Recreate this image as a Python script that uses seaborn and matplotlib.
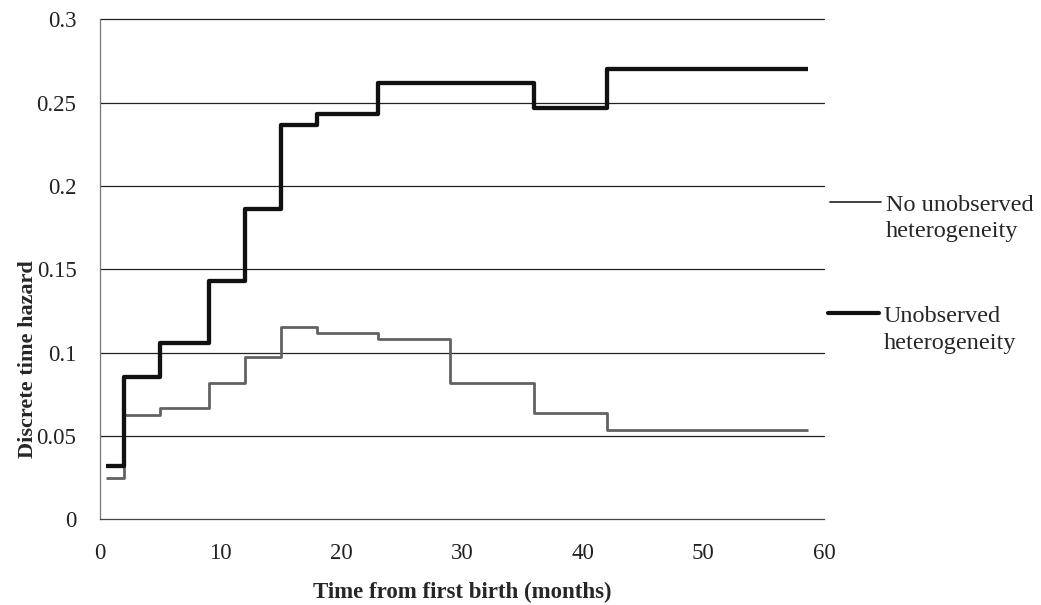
import numpy as np
import pandas as pd
import matplotlib
matplotlib.use("Agg")
import matplotlib.pyplot as plt
from matplotlib.lines import Line2D
import seaborn as sns


# ======================================================
# DATA
# ======================================================
# step edges in months; each value holds from its edge to the next one
month_edges = [0.5, 2, 5, 9, 12, 15, 18, 23, 29, 36, 42, 58.7]

hazard_no_unobs = [0.0248, 0.0626, 0.0666, 0.0816, 0.0972, 0.1152,
                   0.1116, 0.108, 0.0816, 0.0636, 0.0536]
hazard_unobs = [0.0318, 0.0853, 0.1058, 0.1432, 0.1862, 0.2367,
                0.2432, 0.2617, 0.2617, 0.2467, 0.2702]

series_names = ["No unobserved", "Unobserved"]

y_ticks = [0, 0.05, 0.1, 0.15, 0.2, 0.25, 0.3]
y_tick_labels = ["0", "0.05", "0.1", "0.15", "0.2", "0.25", "0.3"]
x_ticks = [0, 10, 20, 30, 40, 50, 60]


# ======================================================
# LONG TABLE FOR SEABORN (repeat last value to close the step)
# ======================================================
frames = []
for name, vals in zip(series_names, [hazard_no_unobs, hazard_unobs]):
    frames.append(pd.DataFrame({
        "month": month_edges,
        "hazard": list(vals) + [vals[-1]],
        "model": name,
    }))
df = pd.concat(frames, ignore_index=True)


# ======================================================
# STYLE
# ======================================================
sns.set_style("white")
plt.rcParams["font.family"] = ["Liberation Serif", "DejaVu Serif"]

styles = {
    "No unobserved": dict(color="#626262", lw=2.0),
    "Unobserved": dict(color="#111111", lw=3.1),
}


# ======================================================
# PLOT
# ======================================================
fig = plt.figure(figsize=(10.41, 6.05), dpi=100)
ax = fig.add_axes([0.0961, 0.1417, 0.6955, 0.8264])

ax.set_axisbelow(True)
for y in y_ticks[1:]:
    ax.axhline(y, color="#222222", lw=0.9, zorder=0, clip_on=False)

for name in series_names:
    sns.lineplot(
        data=df[df["model"] == name],
        x="month", y="hazard",
        estimator=None, drawstyle="steps-post",
        color=styles[name]["color"], linewidth=styles[name]["lw"],
        solid_capstyle="butt", ax=ax, legend=False,
    )

ax.set_xlim(0, 60)
ax.set_ylim(0, 0.3)
ax.set_xticks(x_ticks)
ax.set_yticks(y_ticks)
ax.set_yticklabels(y_tick_labels)

for side in ["top", "right"]:
    ax.spines[side].set_visible(False)
ax.spines["left"].set_color("#777777")
ax.spines["left"].set_linewidth(0.9)
ax.spines["bottom"].set_color("#444444")
ax.spines["bottom"].set_linewidth(0.9)

ax.tick_params(axis="y", direction="out", length=4, width=0.9,
               color="#555555", pad=13, labelsize=16.5, labelcolor="#222222")
ax.tick_params(axis="x", direction="out", length=3, width=0.8,
               color="#777777", pad=14, labelsize=16.5, labelcolor="#222222")

ax.set_xlabel("Time from first birth (months)", fontsize=16.5,
              fontweight="bold", labelpad=13)
ax.set_ylabel("Discrete time hazard", fontsize=16, fontweight="bold")
ax.yaxis.set_label_coords(-0.085, 0.32)


# ======================================================
# LEGEND (two blocks, key aligned with first text line)
# ======================================================
blank = Line2D([], [], linestyle="none")
leg_kw = dict(frameon=False, fontsize=17.5, handlelength=2.1,
              handletextpad=0.2, borderpad=0, borderaxespad=0,
              labelspacing=0.2, loc="upper left",
              bbox_transform=fig.transFigure)

h1 = Line2D([], [], color="#333333", lw=1.3)
leg1 = ax.legend([h1, blank], ["No unobserved", "heterogeneity"],
                 bbox_to_anchor=(0.797, 0.680), **leg_kw)
ax.add_artist(leg1)

h2 = Line2D([], [], color="#111111", lw=3.0)
ax.legend([h2, blank], ["Unobserved", "heterogeneity"],
          bbox_to_anchor=(0.795, 0.496), **leg_kw)

fig.savefig("out.png", dpi=100, facecolor="white")
